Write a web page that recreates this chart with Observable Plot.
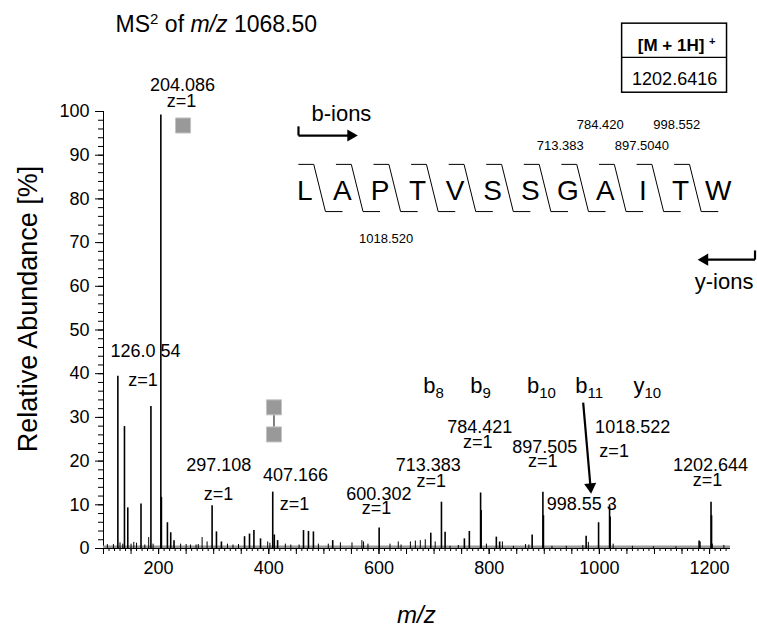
<!DOCTYPE html>
<html><head><meta charset="utf-8">
<script src="https://cdn.jsdelivr.net/npm/d3@7"></script>
<script src="https://cdn.jsdelivr.net/npm/@observablehq/plot@0.6"></script>
<style>body{margin:0;background:#fff}#chart{width:757px;height:629px}</style>
</head><body><div id="chart"></div>
<script>
// ---------- DATA ----------
// main fragment peaks (m/z, relative abundance %)
const peakMz  = [126.05,138.05,144.07,168.07,186.08,204.086,205.09,216,222,228,297.108,305,314,356,365,373,385,407.166,410,416,463,472,481,516,600.302,694,713.383,720,755,764,784.421,785.4,813,819,878,897.505,898.5,976,998.553,1018.522,1019.5,1181,1202.644,1203.6];
const peakInt = [39.4,27.9,9.3,10.2,32.5,99.2,11.7,5.9,3.6,1.8,9.8,3.8,1.5,2.7,3.3,4.1,2.2,12.9,3.1,1.8,4.1,3.9,3.8,1.8,4.7,3.5,10.6,3.7,2.2,3.9,12.7,8.7,2.6,1.5,3.1,12.9,7.5,2.8,5.9,10.0,7.2,1.7,10.6,7.5];
// baseline noise peaks
const noiseMz  = [107,118,130,135,150,155,160,175,182,190,240,250,258,268,272,279,288,325,335,345,398,402,430,440,455,490,508,530,551,569,572,580,620,635,640,657,666,675,684,702,729,744,795,824,844,866,872,914,940,970,980,1025,1060,1098,1139,1183,1205,1226];
const noiseInt = [0.9,0.9,1.3,1.0,1.0,1.4,1.2,0.8,2.5,1.0,1.0,0.9,0.8,0.8,0.9,2.5,1.5,1.0,0.8,0.9,1.5,1.2,1.0,0.8,0.8,1.0,1.0,1.3,1.3,1.8,1.5,1.0,1.0,1.5,0.8,1.5,1.7,1.8,2.0,1.5,0.5,0.7,1.0,1.5,0.5,0.9,0.8,0.5,0.5,0.7,1.4,1.0,0.5,0.4,0.4,1.5,1.0,0.7];
// peak labels
const peakLabels  = ["204.086","126.0 54","297.108","407.166","600.302","713.383","784.421","897.505","1018.522","998.55 3","1202.644"];
const chargeLabels = ["z=1","z=1","z=1","z=1","z=1","z=1","z=1","z=1","z=1","z=1"];
const ionLabels   = ["b_{8}","b_{9}","b_{10}","b_{11}","y_{10}"];
const sequence    = ["L","A","P","T","V","S","S","G","A","I","T","W"];
const seqMasses   = ["784.420","998.552","713.383","897.5040","1018.520"];
const precursor   = ["[M + 1H] ^{+}","1202.6416"];
const xTicks = [200,400,600,800,1000,1200];
const yTicks = [0,10,20,30,40,50,60,70,80,90,100];

// ---------- LAYOUT (annotation anchors in data units) ----------
const peakLabelPos   = [[243.5,105.9],[176.4,45.1],[309.3,19.0],[448.4,16.8],[599.8,12.5],[689.6,19.0],[783.0,27.8],[900.8,23.2],[1060.4,27.8],[967.9,10.2],[1201.8,19.0]];
const chargeLabelPos = [[241.7,102.3],[171.9,38.4],[308.7,12.4],[446.5,10.2],[595.3,9.3],[695,15.3],[779.1,24.3],[897.2,19.9],[1026.8,22.2],[1196.4,15.6]];
const ionLabelPos    = [[680.5,37.2],[765.7,37.2],[868.5,37.2],[956.1,37.2],[1061.8,37.2]];
const seqMassPos     = [[1001.5,97.0],[1140.5,97.0],[928.9,92.2],[1077.1,92.2],[612.9,70.9]];
const precursorPos   = [[1140.2,115.0],[1136.6,107.4]];
const seqStart = 454.4, seqStep = 68.2, seqTop = 87.9, seqBot = 77.1, seqY = 81.9;

const FONT = "'Liberation Sans', Arial, Helvetica, sans-serif";

const peaks = peakMz.map((m,i)=>({mz:m, v:peakInt[i]}));
const noise = noiseMz.map((m,i)=>({mz:m, v:noiseInt[i]}));
const lab = (texts, pos) => texts.map((t,i)=>({t, x:pos[i][0], y:pos[i][1]}));

// cleavage markers between residues
const markers = [];
for (let i = 0; i < sequence.length - 1; i++) {
  const x0 = seqStart + seqStep * i;
  markers.push({i, x:x0, y:seqTop},{i, x:x0+27.2, y:seqTop},{i, x:x0+48.4, y:seqBot},{i, x:x0+78.7, y:seqBot});
}
const residues = sequence.map((s,i)=>({t:s, x:seqStart + 11 + seqStep*i, y:seqY}));

const txt = (data, o) => Plot.text(data, {x:"x", y:"y", text:"t", fill:"black", ...o});

const chart = Plot.plot({
  width: 757, height: 629,
  marginLeft: 103, marginRight: 27, marginTop: 111, marginBottom: 81,
  x: {domain: [100, 1238], label: null},
  y: {domain: [0, 100], label: null},
  style: {fontFamily: FONT, fontSize: "18px", color: "black", background: "white"},
  marks: [
    // axes
    Plot.axisY({ticks: d3.range(0, 101, 2), tickSize: 5, tickFormat: () => ""}),
    Plot.axisY({ticks: yTicks, tickSize: 8, tickPadding: 6, fontSize: 18, tickFormat: d => String(d)}),
    Plot.ruleX([100], {y1: 0, y2: 100, stroke: "black", strokeWidth: 1}),
    Plot.axisX({ticks: d3.range(100, 1240, 10), tickSize: 3, tickFormat: () => ""}),
    Plot.axisX({ticks: d3.range(100, 1240, 50), tickSize: 6, tickFormat: () => ""}),
    Plot.axisX({ticks: xTicks, tickSize: 6, tickPadding: 7, fontSize: 18, tickFormat: d => String(d)}),
    Plot.ruleY([0], {stroke: "#9a9a9a", strokeWidth: 3, dy: -1.5}),
    Plot.ruleY([0], {stroke: "black", strokeWidth: 1}),
    // spectrum
    Plot.ruleX(noise, {x: "mz", y1: 0, y2: "v", stroke: "black", strokeWidth: 1}),
    Plot.ruleX(peaks, {x: "mz", y1: 0, y2: "v", stroke: "black", strokeWidth: 1.6}),
    // glycan symbols
    Plot.ruleX([409.4], {y1: 26.1, y2: 32.3, stroke: "black", strokeWidth: 1}),
    Plot.dot([{x:244.4,y:96.8},{x:409.4,y:32.3},{x:409.4,y:26.1}], {x:"x", y:"y", symbol:"square", r:8.5, fill:"#999999", stroke:"#c4c4c4", strokeWidth:1}),
    // peak labels
    txt(lab(peakLabels, peakLabelPos), {fontSize: 18}),
    txt(lab(chargeLabels, chargeLabelPos), {fontSize: 18}),
    txt(lab(ionLabels, ionLabelPos), {fontSize: 22, textAnchor: "start"}),
    // b11 arrow
    Plot.link([{x1:970.6,y1:33.4,x2:983.9,y2:14.1}], {x1:"x1",y1:"y1",x2:"x2",y2:"y2", stroke:"black", strokeWidth:2.2}),
    Plot.dot([{x:983.9,y:14.1}], {x:"x",y:"y", symbol:"triangle", r:4.5, fill:"black", rotate:175}),
    // precursor box
    Plot.rect([{x1:1041.3,x2:1231.7,y1:104.3,y2:120.1}], {x1:"x1",x2:"x2",y1:"y1",y2:"y2", fill:"none", stroke:"black", strokeWidth:1.5}),
    Plot.ruleY([112.4], {x1:1041.3, x2:1231.7, stroke:"black", strokeWidth:1.2}),
    txt(lab(precursor.slice(0,1), precursorPos.slice(0,1)), {fontSize: 17, fontWeight: "bold"}),
    txt(lab(precursor.slice(1), precursorPos.slice(1)), {fontSize: 18}),
    // peptide sequence
    Plot.line(markers, {x:"x", y:"y", z:"i", stroke:"black", strokeWidth:1}),
    txt(residues, {fontSize: 28}),
    txt(lab(seqMasses, seqMassPos), {fontSize: 13}),
    // b-ions / y-ions
    txt([{t:"b-ions", x:531.8, y:99.5}], {fontSize: 22}),
    Plot.link([{x1:453.9,y1:96.6,x2:453.9,y2:94.5},{x1:453.9,y1:94.5,x2:548.9,y2:94.5}], {x1:"x1",y1:"y1",x2:"x2",y2:"y2", stroke:"black", strokeWidth:2.2}),
    Plot.dot([{x:548.9,y:94.5}], {x:"x",y:"y", symbol:"triangle", r:4.5, fill:"black", rotate:90}),
    txt([{t:"y-ions", x:1226.3, y:60.9}], {fontSize: 22}),
    Plot.link([{x1:1282.5,y1:68.2,x2:1282.5,y2:66.1},{x1:1282.5,y1:66.1,x2:1191.1,y2:66.1}], {x1:"x1",y1:"y1",x2:"x2",y2:"y2", stroke:"black", strokeWidth:2.2}),
    Plot.dot([{x:1191.1,y:66.1}], {x:"x",y:"y", symbol:"triangle", r:4.5, fill:"black", rotate:270}),
    // titles
    txt([{t:"MS^{2} of *m/z* 1068.50", x:122, y:119.8}], {fontSize: 23, textAnchor: "start"}),
    txt([{t:"Relative Abundance [%]", x:-35.7, y:54.8}], {fontSize: 27, rotate: -90}),
    txt([{t:"*m/z*", x:667.8, y:-15.3}], {fontSize: 24})
  ]
});

// rich text: ^{sup}, _{sub}, *italic*
d3.select(chart).selectAll("text").each(function() {
  const s = this.textContent;
  if (!/(\^\{|_\{|\*)/.test(s)) return;
  let node = this, fs = NaN;
  while (node && node !== chart && isNaN(fs)) { fs = parseFloat(node.getAttribute && node.getAttribute("font-size")); node = node.parentNode; }
  if (isNaN(fs)) fs = 18;
  const parts = s.split(/(\^\{[^}]*\}|_\{[^}]*\}|\*[^*]*\*)/g).filter(p => p !== "");
  const el = d3.select(this);
  el.text(null);
  for (const p of parts) {
    if (p.startsWith("^{")) el.append("tspan").attr("baseline-shift", (fs * 0.36).toFixed(1) + "px").attr("font-size", (fs * 0.65).toFixed(1) + "px").text(p.slice(2, -1));
    else if (p.startsWith("_{")) el.append("tspan").attr("baseline-shift", (-fs * 0.22).toFixed(1) + "px").attr("font-size", (fs * 0.68).toFixed(1) + "px").text(p.slice(2, -1));
    else if (p.startsWith("*")) el.append("tspan").attr("font-style", "italic").text(p.slice(1, -1));
    else el.append("tspan").text(p);
  }
});

document.getElementById("chart").appendChild(chart);
</script></body></html>
